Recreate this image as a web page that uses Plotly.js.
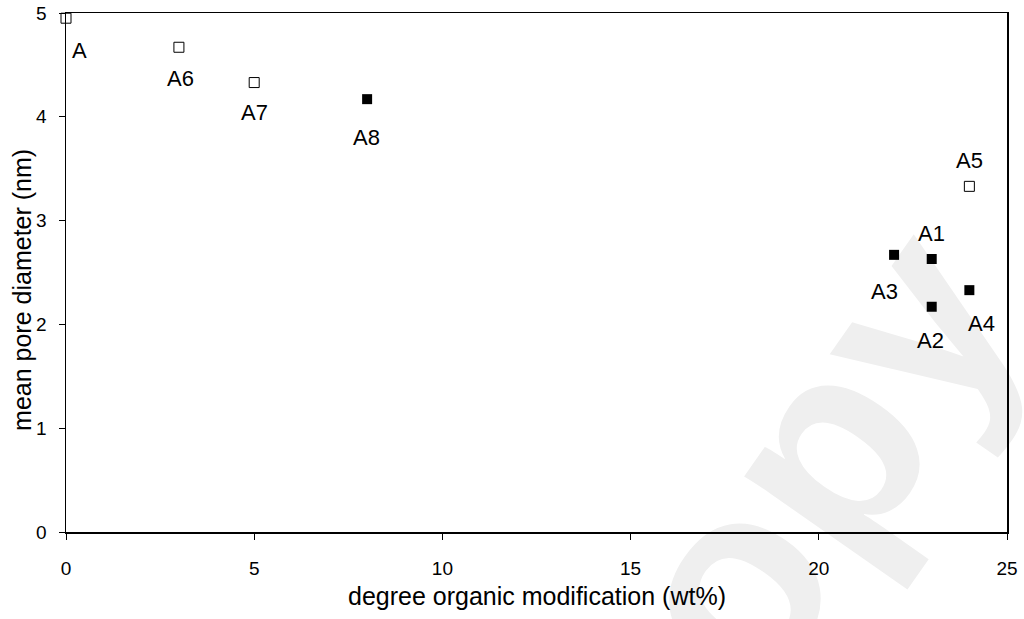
<!DOCTYPE html>
<html>
<head>
<meta charset="utf-8">
<script src="https://cdn.plot.ly/plotly-3.0.1.min.js"></script>
<style>
html,body{margin:0;padding:0;background:#fff;}
#wrap{position:relative;width:1024px;height:619px;overflow:hidden;}
#wm{position:absolute;left:0;top:0;width:1024px;height:619px;}
#chart{position:absolute;left:0;top:0;width:1024px;height:619px;}
</style>
</head>
<body>
<div id="wrap">
<svg id="wm" width="1024" height="619" xmlns="http://www.w3.org/2000/svg">
  <text x="670" y="831" transform="rotate(-55 670 831)" font-family="Liberation Sans, Arial, sans-serif" font-weight="bold" font-size="270" fill="#efefef">copy</text>
</svg>
<div id="chart"></div>
</div>
<script>
// data
const labels   = ["A", "A6", "A7", "A8", "A5", "A3", "A1", "A2", "A4"];
const xValues  = [0, 3, 5, 8, 24, 22, 23, 23, 24];
const yValues  = [4.95, 4.67, 4.33, 4.17, 3.33, 2.67, 2.63, 2.17, 2.33];
const isFilled = [false, false, false, true, false, true, true, true, true];
const xTicks = [0, 5, 10, 15, 20, 25];
const yTicks = [0, 1, 2, 3, 4, 5];
const xTitle = "degree organic modification (wt%)";
const yTitle = "mean pore diameter (nm)";

// label offsets (pixels), style only
const labelShift = {
  "A":  [13, -32], "A6": [2, -31], "A7": [0, -30], "A8": [-1, -38],
  "A5": [0, 26], "A3": [-10, -37], "A1": [0, 26], "A2": [-1, -34], "A4": [12, -33]
};

const openIdx = [], fillIdx = [];
isFilled.forEach((f, i) => (f ? fillIdx : openIdx).push(i));

const font = "Liberation Sans, Arial, sans-serif";
const traces = [
  {
    x: openIdx.map(i => xValues[i]), y: openIdx.map(i => yValues[i]),
    type: "scatter", mode: "markers", cliponaxis: false,
    marker: {symbol: "square-open", size: 10, color: "#000", line: {width: 1, color: "#000"}}
  },
  {
    x: fillIdx.map(i => xValues[i]), y: fillIdx.map(i => yValues[i]),
    type: "scatter", mode: "markers", cliponaxis: false,
    marker: {symbol: "square", size: 10, color: "#000"}
  }
];

const annotations = labels.map((t, i) => ({
  x: xValues[i], y: yValues[i], text: t, showarrow: false,
  xshift: labelShift[t][0], yshift: labelShift[t][1],
  font: {family: font, size: 22, color: "#000"}
}));
annotations.push({
  xref: "paper", yref: "paper", x: 0.5, y: -0.123, xanchor: "center", yanchor: "middle",
  text: xTitle, showarrow: false, font: {family: font, size: 25, color: "#000"}
});
annotations.push({
  xref: "paper", yref: "paper", x: -0.047, y: 0.466, xanchor: "center", yanchor: "middle",
  textangle: -90, text: yTitle, showarrow: false, font: {family: font, size: 25, color: "#000"}
});

const axisCommon = {
  showgrid: false, zeroline: false, showline: true, linecolor: "#000", linewidth: 1.5,
  mirror: true, ticks: "outside", ticklen: 6, tickcolor: "#000", tickwidth: 1,
  ticklabelstandoff: 13,
  tickfont: {family: font, size: 19, color: "#000"}
};

const layout = {
  width: 1024, height: 619,
  margin: {l: 66, r: 17, t: 13, b: 87},
  paper_bgcolor: "rgba(0,0,0,0)", plot_bgcolor: "rgba(0,0,0,0)",
  showlegend: false,
  xaxis: Object.assign({}, axisCommon, {
    range: [0, 25], tickvals: xTicks, ticktext: xTicks.map(String)
  }),
  yaxis: Object.assign({}, axisCommon, {
    range: [0, 5], tickvals: yTicks, ticktext: yTicks.map(String), ticklabelstandoff: 8
  }),
  annotations: annotations
};

Plotly.newPlot("chart", traces, layout, {staticPlot: true, displayModeBar: false});
</script>
</body>
</html>
